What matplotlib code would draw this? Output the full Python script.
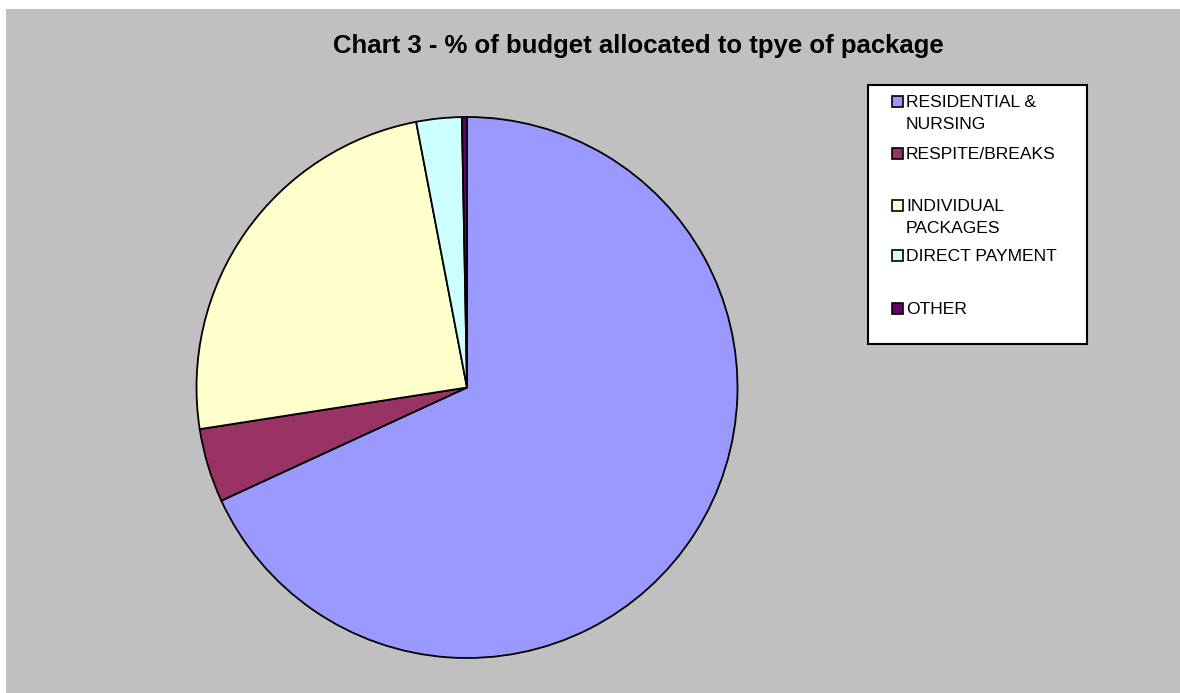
import matplotlib
matplotlib.use("Agg")
import matplotlib.pyplot as plt
from matplotlib.patches import Rectangle

categories = ["RESIDENTIAL &\nNURSING", "RESPITE/BREAKS", "INDIVIDUAL\nPACKAGES",
              "DIRECT PAYMENT", "OTHER"]
shares = [68.13, 4.41, 24.45, 2.71, 0.30]
colors = ["#9999FF", "#993366", "#FFFFCC", "#CCFFFF", "#660066"]
title = "Chart 3 - % of budget allocated to tpye of package"

W, H = 1180, 693
plt.rcParams['font.family'] = ['Liberation Sans', 'DejaVu Sans']
fig = plt.figure(figsize=(W / 100, H / 100), dpi=100, facecolor="white")

def fx(px):
    return px / W

def fy(py):
    return 1 - py / H

# gray chart area
fig.patches.append(Rectangle((fx(6), 0), 1 - fx(6), fy(9), transform=fig.transFigure,
                             facecolor="#C0C0C0", edgecolor="none", zorder=-5))

cx, cy, r = 467, 387.5, 270.5
ax = fig.add_axes([fx(cx - r), fy(cy + r), fx(2 * r), (2 * r) / H])
ax.set_zorder(5)
ax.set_facecolor("none")
ax.pie(shares, colors=colors, startangle=90, counterclock=False,
       wedgeprops=dict(edgecolor="black", linewidth=1.3))
ax.set_xlim(-1, 1)
ax.set_ylim(-1, 1)
ax.set_aspect("auto")
ax.axis("off")

fig.text(fx(638), fy(53), title, ha="center", va="baseline",
         fontsize=18.5, fontweight="bold", color="black")

# legend box
fig.patches.append(Rectangle((fx(868), fy(344)), fx(1087 - 868), (344 - 85) / H,
                             transform=fig.transFigure, facecolor="white",
                             edgecolor="black", linewidth=1.5, zorder=1))
baselines = [107, 159, 211, 261, 314]
for lab, col, b in zip(categories, colors, baselines):
    fig.patches.append(Rectangle((fx(892), fy(b)), fx(11), 11 / H,
                                 transform=fig.transFigure, facecolor=col,
                                 edgecolor="black", linewidth=1.2, zorder=2))
    for i, line in enumerate(lab.split("\n")):
        fig.text(fx(906), fy(b + 22 * i), line, ha="left", va="baseline",
                 fontsize=12.6, color="black", zorder=3)

fig.savefig("out.png", dpi=100, facecolor="white")
